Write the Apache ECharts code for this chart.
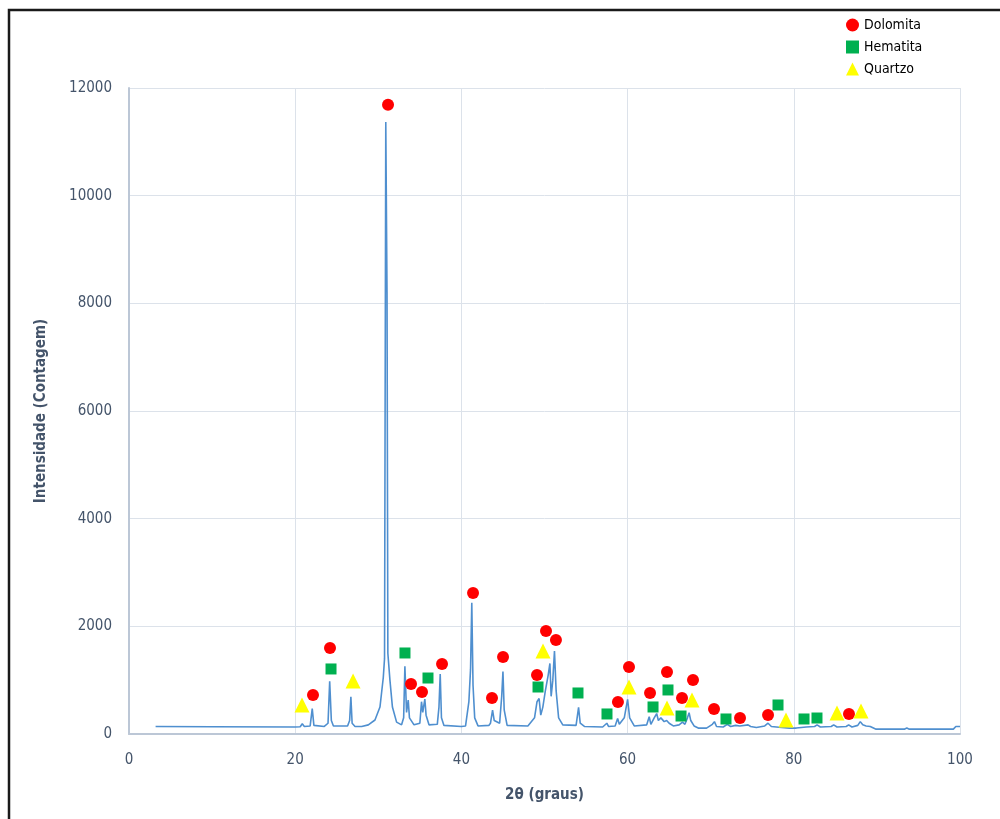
<!DOCTYPE html>
<html>
<head>
<meta charset="utf-8">
<script src="https://cdn.jsdelivr.net/npm/echarts@6/dist/echarts.min.js"></script>
<style>
html,body{margin:0;padding:0;background:#fff;}
#chart{width:1000px;height:819px;}
</style>
</head>
<body>
<div id="chart"></div>
<script>
// XRD trace [2θ, intensity]
var trace = [
[3.2,140],[10,135],[20,130],[20.6,135],[20.85,190],[21.1,140],[21.8,150],[22.05,470],[22.25,160],[23.5,140],
[23.95,200],[24.15,980],[24.35,250],[24.6,150],[26.3,150],[26.55,250],[26.7,690],[26.85,200],[27.2,140],[28,140],
[28.8,170],[29.6,260],[30.2,500],[30.6,1050],[30.75,1400],[30.9,11370],[31.05,8200],[31.15,1500],[31.4,1000],[31.7,500],
[32.2,220],[32.8,170],[33.05,300],[33.2,1260],[33.4,400],[33.6,630],[33.75,300],[34.3,170],[35,200],[35.2,600],
[35.35,400],[35.6,650],[35.75,350],[36.1,170],[37.1,180],[37.3,500],[37.45,1115],[37.6,300],[37.9,160],[40,140],
[40.5,150],[40.9,600],[41.1,1200],[41.25,2440],[41.4,900],[41.6,300],[42,150],[43.3,160],[43.5,200],[43.75,445],
[43.95,250],[44.6,200],[44.85,700],[45.0,1160],[45.15,450],[45.5,160],[48,150],[48.8,300],[49.1,600],[49.35,660],
[49.55,350],[49.8,500],[50.1,800],[50.45,1100],[50.65,1310],[50.8,700],[51.0,1000],[51.2,1540],[51.4,800],[51.7,300],
[52.2,170],[53.8,160],[54.1,495],[54.3,200],[54.8,140],[57,130],[57.5,200],[57.7,140],[58.5,150],[58.8,290],
[59.0,180],[59.6,300],[60.0,645],[60.25,300],[60.8,150],[62.3,170],[62.6,320],[62.8,180],[63.2,300],[63.5,380],
[63.7,250],[64.0,300],[64.4,230],[64.7,250],[65.0,200],[65.5,150],[66.2,170],[66.6,220],[66.9,180],[67.2,300],
[67.4,395],[67.6,250],[68.0,150],[68.5,110],[69.5,110],[70.2,180],[70.45,230],[70.7,140],[71.5,130],[72,180],
[72.4,140],[73.0,160],[73.5,150],[74.5,170],[74.8,140],[75.5,120],[76.5,150],[76.9,200],[77.3,140],[78.5,120],
[79.5,110],[80.3,110],[81.5,130],[82.5,140],[82.8,170],[83.2,130],[84.5,140],[84.8,170],[85.2,130],[86.3,140],
[86.6,170],[87.0,130],[87.7,160],[88.0,230],[88.3,170],[88.7,150],[89.2,140],[89.9,90],[93.3,90],[93.6,110],
[93.9,90],[99.2,90],[99.5,140],[100,140]
];

var dolomita = [
[22.14,725],[24.19,1598],[31.17,11687],[33.94,929],[35.26,780],[37.67,1301],[41.40,2620],[43.68,669],
[45.01,1431],[49.10,1096],[50.18,1914],[51.38,1747],[58.84,595],[60.17,1245],[62.70,762],[64.74,1152],
[66.55,669],[67.87,1003],[70.40,464],[73.53,297],[76.90,353],[86.64,372]
];
var hematita = [
[24.31,1208],[33.21,1505],[35.98,1040],[49.22,873],[54.03,762],[57.52,372],[63.06,502],[64.86,818],
[66.43,334],[71.84,279],[78.10,539],[81.23,279],[82.79,297]
];
var quartzo = [
[20.82,539],[26.96,985],[49.82,1542],[60.17,873],[64.74,483],[67.75,632],[79.06,260],[85.20,390],[88.09,427]
];

var xTicks = [0,20,40,60,80,100];
var yTicks = [0,2000,4000,6000,8000,10000,12000];

var labelFont = "'Liberation Sans Narrow','DejaVu Sans Condensed','Liberation Sans',sans-serif";
var axisTextColor = '#44546A';

var chart = echarts.init(document.getElementById('chart'), null, {renderer:'canvas'});
chart.setOption({
  animation:false,
  backgroundColor:'#fff',
  graphic:[{
    type:'polyline', silent:true,
    shape:{points:[[9,819],[9,10],[1000,10]]},
    style:{stroke:'#1a1a1a', lineWidth:2.5, fill:null}
  }],
  legend:{
    orient:'vertical', left:841, top:13, itemGap:8, itemWidth:13, itemHeight:13,
    data:['Dolomita','Hematita','Quartzo'],
    textStyle:{color:'#000', fontSize:14, fontFamily:labelFont}
  },
  grid:{left:129, right:40, top:88, bottom:85, containLabel:false},
  xAxis:{
    type:'value', min:xTicks[0], max:xTicks[xTicks.length-1], interval:20,
    name:'2θ (graus)', nameLocation:'middle', nameGap:54,
    nameTextStyle:{color:axisTextColor, fontSize:15, fontWeight:'bold', fontFamily:labelFont},
    axisLine:{lineStyle:{color:'#BCC7D6', width:2}},
    axisTick:{show:false},
    axisLabel:{color:axisTextColor, fontSize:15, margin:19, fontFamily:labelFont},
    splitLine:{show:true, lineStyle:{color:'#DCE2EA', width:1}}
  },
  yAxis:{
    type:'value', min:yTicks[0], max:yTicks[yTicks.length-1], interval:2000,
    name:'Intensidade (Contagem)', nameLocation:'middle', nameGap:80,
    nameTextStyle:{color:axisTextColor, fontSize:15, fontWeight:'bold', fontFamily:labelFont},
    axisLine:{show:true, lineStyle:{color:'#BCC7D6', width:2}},
    axisTick:{show:false},
    axisLabel:{color:axisTextColor, fontSize:15, margin:17, fontFamily:labelFont,
      formatter:function(v){return String(v);}},
    splitLine:{show:true, lineStyle:{color:'#DCE2EA', width:1}}
  },
  series:[
    {name:'XRD', type:'line', data:trace, showSymbol:false, symbol:'none',
     lineStyle:{color:'#4F8FCF', width:1.6}, z:2},
    {name:'Dolomita', type:'scatter', data:dolomita, symbol:'circle', symbolSize:12,
     itemStyle:{color:'#FF0000', opacity:1}, z:5},
    {name:'Hematita', type:'scatter', data:hematita, symbol:'rect', symbolSize:11,
     itemStyle:{color:'#00B050', opacity:1}, z:5},
    {name:'Quartzo', type:'scatter', data:quartzo, symbol:'triangle', symbolSize:15,
     itemStyle:{color:'#FFFF00', opacity:1}, z:5}
  ]
});
</script>
</body>
</html>
